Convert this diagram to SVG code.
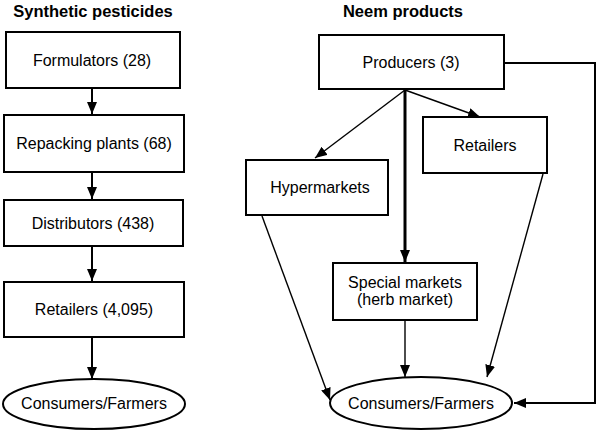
<svg xmlns="http://www.w3.org/2000/svg" width="599" height="434" viewBox="0 0 599 434">
<style>
.box{fill:#fff;stroke:#000;stroke-width:2}
.t{font-family:"Liberation Sans",Arial,sans-serif;font-size:16px;fill:#000;text-anchor:middle}
.h{font-family:"Liberation Sans",Arial,sans-serif;font-size:16.5px;font-weight:bold;fill:#000;text-anchor:middle}
.c{fill:none;stroke:#000;stroke-width:2}
.thin{fill:none;stroke:#000;stroke-width:1.4}
.thick{fill:none;stroke:#000;stroke-width:3}
</style>
<defs>
<marker id="ah" markerUnits="userSpaceOnUse" markerWidth="12" markerHeight="10" refX="12" refY="5" orient="auto">
<path d="M0,0 L12,5 L0,10 z" fill="#000"/>
</marker>
</defs>
<rect width="599" height="434" fill="#fff"/>
<text class="h" x="93" y="17">Synthetic pesticides</text>
<text class="h" x="403" y="17">Neem products</text>
<g id="connectors">
<line class="c" x1="92" y1="89" x2="92" y2="114" marker-end="url(#ah)"/>
<line class="c" x1="92" y1="172" x2="92" y2="199" marker-end="url(#ah)"/>
<line class="c" x1="92" y1="246" x2="92" y2="281" marker-end="url(#ah)"/>
<line class="c" x1="92" y1="337" x2="92" y2="379" marker-end="url(#ah)"/>
<line class="thin" x1="405" y1="90" x2="315" y2="158" marker-end="url(#ah)"/>
<line class="thin" x1="405" y1="90" x2="480" y2="117" marker-end="url(#ah)"/>
<line class="thick" x1="405" y1="90" x2="405" y2="262" marker-end="url(#ah)"/>
<line class="thin" x1="262" y1="216" x2="330" y2="400" marker-end="url(#ah)"/>
<line class="thin" x1="543" y1="174" x2="487" y2="377" marker-end="url(#ah)"/>
<line class="thin" x1="405" y1="321" x2="405" y2="377" marker-end="url(#ah)"/>
<polyline class="c" points="505,63 595,63 595,403 514,403" marker-end="url(#ah)"/>
</g>
<g id="formulators">
<rect class="box" x="6" y="32" width="174" height="56"/>
<text class="t" x="92" y="66">Formulators (28)</text>
</g>
<g id="repacking">
<rect class="box" x="4" y="115" width="180" height="57"/>
<text class="t" x="94" y="149">Repacking plants (68)</text>
</g>
<g id="distributors">
<rect class="box" x="4" y="200" width="179" height="46"/>
<text class="t" x="93" y="229">Distributors (438)</text>
</g>
<g id="retailers-left">
<rect class="box" x="4" y="282" width="180" height="55"/>
<text class="t" x="94" y="315">Retailers (4,095)</text>
</g>
<g id="consumers-left">
<ellipse class="box" cx="94" cy="404" rx="91" ry="25"/>
<text class="t" x="94" y="409">Consumers/Farmers</text>
</g>
<g id="producers">
<rect class="box" x="319" y="35" width="185" height="54"/>
<text class="t" x="411" y="68">Producers (3)</text>
</g>
<g id="retailers-right">
<rect class="box" x="423" y="117" width="124" height="56"/>
<text class="t" x="485" y="151">Retailers</text>
</g>
<g id="hypermarkets">
<rect class="box" x="246" y="160" width="142" height="55"/>
<text class="t" x="320" y="193">Hypermarkets</text>
</g>
<g id="special-markets">
<rect class="box" x="333" y="263" width="144" height="57"/>
<text class="t" x="405" y="288">Special markets</text>
<text class="t" x="405" y="305">(herb market)</text>
</g>
<g id="consumers-right">
<ellipse class="box" cx="421" cy="403" rx="91" ry="26"/>
<text class="t" x="421" y="409">Consumers/Farmers</text>
</g>
</svg>
